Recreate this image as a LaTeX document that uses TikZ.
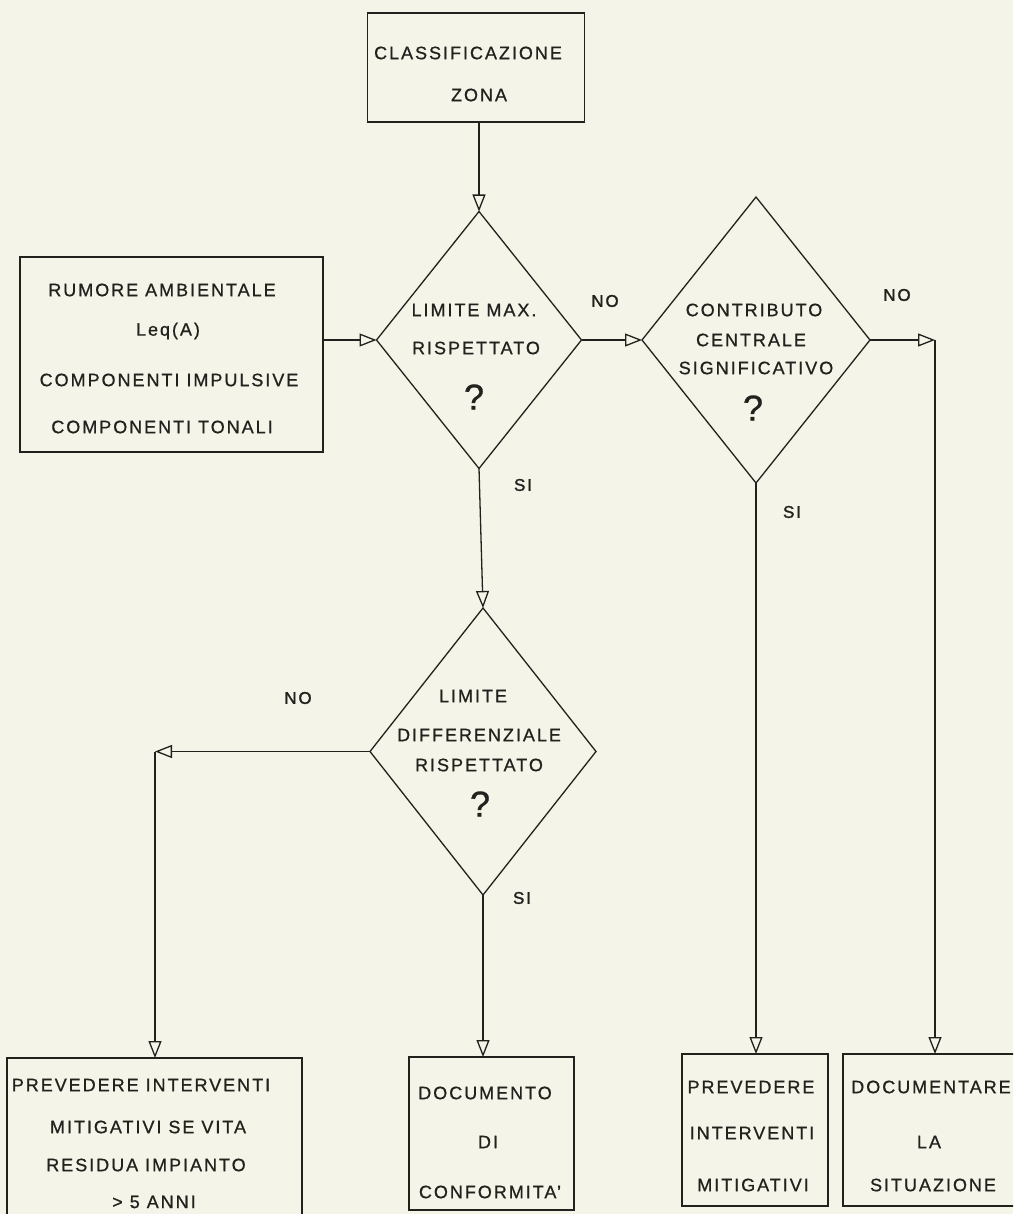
\documentclass[tikz,border=0pt]{standalone}
\usepackage{fontspec}
\setmainfont{Liberation Sans}[LetterSpace=11,FakeBold=0.8]
\newfontfamily\lblfont{Liberation Sans}[LetterSpace=11,FakeBold=1.6]
\usetikzlibrary{shapes.geometric,arrows.meta}
\definecolor{paper}{RGB}{245,244,232}
\definecolor{ink}{RGB}{35,33,30}
\begin{document}
\begin{tikzpicture}[x=1pt,y=-1pt,
  box/.style={draw=ink, rectangle, line width=1.3pt, inner sep=0pt, outer sep=0pt},
  dia/.style={draw=ink, diamond, line width=1.3pt, inner sep=0pt, outer sep=0pt},
  conn/.style={draw=ink, line width=1.3pt, -{Triangle[open,length=17pt,width=13pt]}},
  txt/.style={inner sep=0pt, text=ink, font=\fontsize{18}{20}\selectfont},
  qm/.style={inner sep=0pt, text=ink, font=\fontsize{36}{40}\selectfont},
  lbl/.style={inner sep=0pt, text=ink, font=\lblfont\fontsize{17}{20}\selectfont}]
\fill[paper] (0,0) rectangle (1013,1214);
\useasboundingbox (0,0) rectangle (1013,1214);
\clip (0,0) rectangle (1013,1214);

% shapes
\node[box, minimum width=217pt, minimum height=109pt] (zona) at (476,67.5) {};
\node[box, minimum width=303pt, minimum height=195pt] (rum) at (171.5,354.5) {};
\node[dia, minimum width=205pt, minimum height=257pt] (d1) at (479,340) {};
\node[dia, minimum width=228pt, minimum height=286pt] (d2) at (756,340) {};
\node[dia, minimum width=226pt, minimum height=287pt] (d3) at (483,751.5) {};
\node[box, minimum width=295pt, minimum height=162pt] (bA) at (154.5,1139) {};
\node[box, minimum width=165pt, minimum height=153pt] (bB) at (491.5,1133.5) {};
\node[box, minimum width=146pt, minimum height=152pt] (bC) at (755,1130) {};
\node[box, minimum width=177pt, minimum height=152pt] (bD) at (931.5,1130) {};
\coordinate (cD) at (935,340);
\coordinate (cA) at (155,751.5);

% texts
\node[txt] (t1) at (468,53) {CLASSIFICAZIONE};
\node[txt] (t2) at (479,95) {ZONA};
\node[txt] (r1) at (162,290) {RUMORE AMBIENTALE};
\node[txt] (r2) at (168,331) {Leq(A)};
\node[txt] (r3) at (169,380) {COMPONENTI IMPULSIVE};
\node[txt] (r4) at (162,427) {COMPONENTI TONALI};
\node[txt] (a1) at (474,310) {LIMITE MAX.};
\node[txt] (a2) at (476,348) {RISPETTATO};
\node[qm]  (a3) at (474,397) {?};
\node[txt] (b1) at (754,310) {CONTRIBUTO};
\node[txt] (b2) at (751,340) {CENTRALE};
\node[txt] (b3) at (756,368) {SIGNIFICATIVO};
\node[qm]  (b4) at (753,408) {?};
\node[txt] (c1) at (473,696) {LIMITE};
\node[txt] (c2) at (479,735) {DIFFERENZIALE};
\node[txt] (c3) at (479,765) {RISPETTATO};
\node[qm]  (c4) at (480,804) {?};
\node[txt] (e1) at (141,1085) {PREVEDERE INTERVENTI};
\node[txt] (e2) at (148,1127) {MITIGATIVI SE VITA};
\node[txt] (e3) at (146,1165) {RESIDUA IMPIANTO};
\node[txt] (e4) at (154,1202) {> 5 ANNI};
\node[txt] (f1) at (485,1093) {DOCUMENTO};
\node[txt] (f2) at (488,1142) {DI};
\node[txt] (f3) at (490,1192) {CONFORMITA'};
\node[txt] (g1) at (751,1087) {PREVEDERE};
\node[txt] (g2) at (752,1133) {INTERVENTI};
\node[txt] (g3) at (753,1185) {MITIGATIVI};
\node[txt] (h1) at (931,1087) {DOCUMENTARE};
\node[txt] (h2) at (929,1142) {LA};
\node[txt] (h3) at (933,1185) {SITUAZIONE};

% labels
\node[lbl] (l1) at (605,301) {NO};
\node[lbl] (l2) at (897,295) {NO};
\node[lbl] (l3) at (523,485) {SI};
\node[lbl] (l4) at (792,512) {SI};
\node[lbl] (l5) at (298,698) {NO};
\node[lbl] (l6) at (522,898) {SI};

% connectors
\draw[conn] (d1.north |- zona.south) -- (d1.north);
\draw[conn] (rum.east |- d1.west) -- (d1.west);
\draw[conn] (d1.east) -- (d2.west);
\draw[conn] (d1.south) -- (d3.north);
\draw[conn] (d2.east) -- (cD);
\draw[conn] (cD) -- (cD |- bD.north);
\draw[conn] (d2.south) -- (d2.south |- bC.north);
\draw[conn] (d3.west) -- (cA);
\draw[conn] (cA) -- (cA |- bA.north);
\draw[conn] (d3.south) -- (d3.south |- bB.north);
\end{tikzpicture}
\end{document}
